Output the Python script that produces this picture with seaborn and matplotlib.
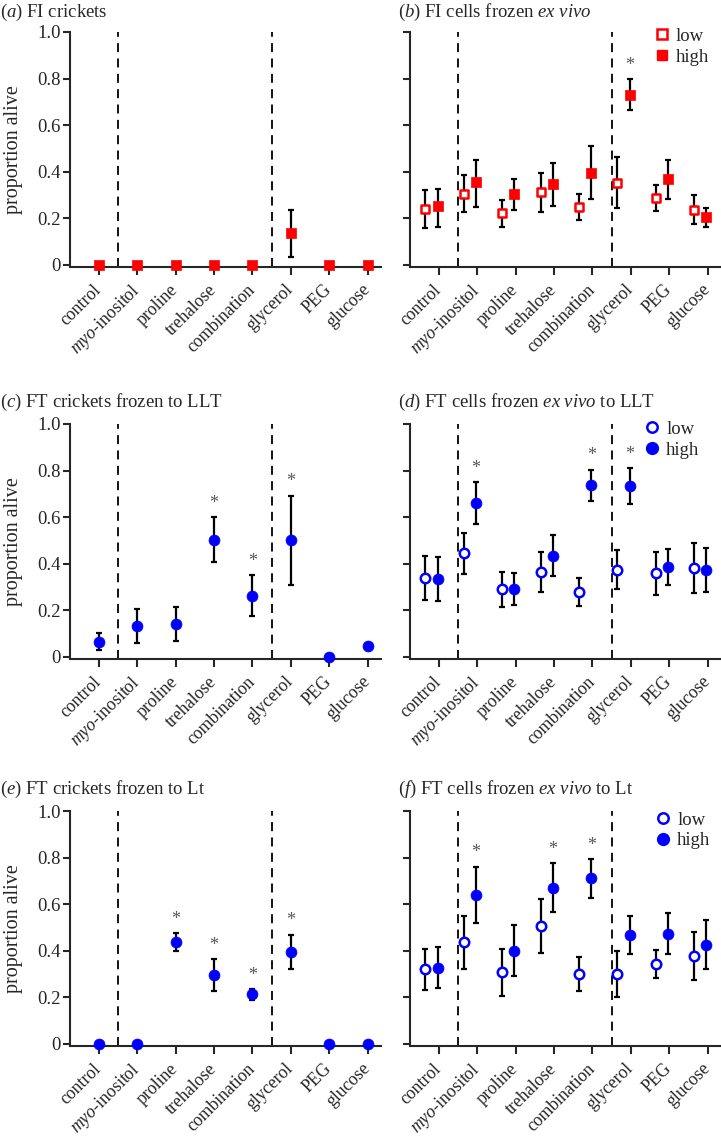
import numpy as np
import pandas as pd
import matplotlib
matplotlib.use("Agg")
import matplotlib.pyplot as plt
from matplotlib.lines import Line2D
import seaborn as sns

sns.set_style("ticks")
plt.rcParams["font.family"] = ["Liberation Serif", "DejaVu Serif"]
plt.rcParams["mathtext.fontset"] = "custom"
plt.rcParams["mathtext.rm"] = "Liberation Serif"
plt.rcParams["mathtext.it"] = "Liberation Serif:italic"

treatments = ["control", r"$\it{myo}$-inositol", "proline", "trehalose",
              "combination", "glycerol", "PEG", "glucose"]

# (a) FI crickets
a_high = [0, 0, 0, 0, 0, 0.135, 0, 0]
a_high_lo = [0, 0, 0, 0, 0, 0.032, 0, 0]
a_high_hi = [0, 0, 0, 0, 0, 0.234, 0, 0]
a_sig = []

# (b) FI cells frozen ex vivo
b_low = [0.241, 0.305, 0.221, 0.311, 0.246, 0.352, 0.287, 0.236]
b_low_lo = [0.156, 0.228, 0.160, 0.228, 0.191, 0.242, 0.231, 0.173]
b_low_hi = [0.322, 0.384, 0.279, 0.393, 0.305, 0.463, 0.342, 0.301]
b_high = [0.252, 0.357, 0.304, 0.347, 0.395, 0.731, 0.368, 0.205]
b_high_lo = [0.162, 0.249, 0.236, 0.254, 0.281, 0.665, 0.284, 0.160]
b_high_hi = [0.327, 0.448, 0.367, 0.437, 0.511, 0.797, 0.451, 0.242]
b_sig = [5]

# (c) FT crickets frozen to LLT
c_high = [0.064, 0.132, 0.139, 0.501, 0.262, 0.501, 0.0, 0.045]
c_high_lo = [0.029, 0.060, 0.066, 0.405, 0.175, 0.309, 0.0, 0.040]
c_high_hi = [0.100, 0.205, 0.212, 0.599, 0.351, 0.692, 0.0, 0.050]
c_sig = [3, 4, 5]

# (d) FT cells frozen ex vivo to LLT
d_low = [0.337, 0.444, 0.290, 0.364, 0.279, 0.374, 0.359, 0.381]
d_low_lo = [0.243, 0.356, 0.214, 0.280, 0.219, 0.289, 0.267, 0.274]
d_low_hi = [0.434, 0.531, 0.364, 0.450, 0.339, 0.459, 0.450, 0.489]
d_high = [0.333, 0.660, 0.290, 0.434, 0.736, 0.733, 0.384, 0.371]
d_high_lo = [0.239, 0.569, 0.221, 0.346, 0.667, 0.657, 0.306, 0.276]
d_high_hi = [0.427, 0.750, 0.359, 0.523, 0.804, 0.810, 0.461, 0.467]
d_sig = [1, 4, 5]

# (e) FT crickets frozen to Lt
e_high = [0, 0, 0.435, 0.296, 0.212, 0.393, 0, 0]
e_high_lo = [0, 0, 0.398, 0.226, 0.188, 0.319, 0, 0]
e_high_hi = [0, 0, 0.474, 0.364, 0.235, 0.468, 0, 0]
e_sig = [2, 3, 4, 5]

# (f) FT cells frozen ex vivo to Lt
f_low = [0.319, 0.436, 0.309, 0.504, 0.300, 0.299, 0.344, 0.377]
f_low_lo = [0.230, 0.323, 0.207, 0.389, 0.226, 0.199, 0.284, 0.273]
f_low_hi = [0.407, 0.550, 0.407, 0.620, 0.373, 0.397, 0.404, 0.480]
f_high = [0.326, 0.640, 0.399, 0.671, 0.710, 0.467, 0.473, 0.426]
f_high_lo = [0.239, 0.519, 0.289, 0.564, 0.624, 0.386, 0.384, 0.321]
f_high_hi = [0.414, 0.761, 0.510, 0.777, 0.794, 0.550, 0.560, 0.530]
f_sig = [1, 3, 4]

RED = "#ff0000"
BLUE = "#0000ff"
W, H = 721, 1139
FS_XT = 12.8
FS_YT = 13.5
FS_TITLE = 13.5


def draw_series(ax, mean, lo, hi, offset, marker, color, filled):
    x = np.arange(len(mean)) + offset
    df = pd.DataFrame({"x": x, "y": mean})
    m = np.array(mean)
    yerr = [m - np.array(lo), np.array(hi) - m]
    ax.errorbar(x, m, yerr=yerr, fmt="none", ecolor="black", elinewidth=1.6,
                capsize=2.5, capthick=1.6, zorder=2, clip_on=False)
    size = 48 if marker == "s" else 62
    if filled:
        sns.scatterplot(data=df, x="x", y="y", marker=marker, color=color,
                        edgecolor=color, linewidth=0.5, s=size, ax=ax,
                        zorder=3, clip_on=False, legend=False)
    else:
        sns.scatterplot(data=df, x="x", y="y", marker=marker, color="white",
                        edgecolor=color, linewidth=1.8, s=size * 0.75, ax=ax,
                        zorder=3, clip_on=False, legend=False)


def setup_axes(rect_px):
    x0, top, w, h = rect_px
    ax = fig.add_axes([x0 / W, 1 - (top + h) / H, w / W, h / H])
    ax.set_xlim(-0.75, 7.35)
    ax.set_ylim(-0.01, 1.0)
    for xv in (0.5, 4.5):
        ax.axvline(xv, color="black", lw=1.3, ls=(0, (5, 3.5)), zorder=1)
    return ax


def finish(ax, left_col):
    ax.set_yticks([0, 0.2, 0.4, 0.6, 0.8, 1.0])
    ax.set_xticks(range(len(treatments)))
    ax.set_xticklabels(treatments, rotation=45, ha="right", va="center",
                       rotation_mode="anchor", fontsize=FS_XT)
    ax.tick_params(axis="x", length=6, width=1.5, pad=8.5)
    ax.tick_params(axis="y", length=5, width=1.5, pad=1.5)
    ax.set_xlabel("")
    if left_col:
        ax.set_yticklabels(["0", "0.2", "0.4", "0.6", "0.8", "1.0"], fontsize=FS_YT)
        ax.set_ylabel("proportion alive", fontsize=14.5)
        ax.yaxis.set_label_coords(-0.15, 0.5)
    else:
        ax.set_yticklabels([])
        ax.set_ylabel("")
    sns.despine(ax=ax)
    for sp in ("left", "bottom"):
        ax.spines[sp].set_linewidth(1.5)


def stars(ax, hi, sig, offset):
    for i in sig:
        ax.text(i + offset, hi[i] + 0.04, "*", ha="center", va="baseline",
                fontsize=13, color="#555555")


fig = plt.figure(figsize=(W / 100, H / 100), dpi=100)

rows = [32, 424, 811]
cols = [70, 410]
aw, ah = 311, 235
lo_off, hi_off = -0.35, -0.03
leg_kw = dict(loc="upper right", frameon=False, fontsize=FS_TITLE, handlelength=0.8,
              handletextpad=0.35, labelspacing=0.2, borderaxespad=0)

# (a)
ax = setup_axes((cols[0], rows[0], aw, ah))
draw_series(ax, a_high, a_high_lo, a_high_hi, 0, "s", RED, True)
stars(ax, a_high_hi, a_sig, 0)
finish(ax, True)

# (b)
ax = setup_axes((cols[1], rows[0], aw, ah))
draw_series(ax, b_low, b_low_lo, b_low_hi, lo_off, "s", RED, False)
draw_series(ax, b_high, b_high_lo, b_high_hi, hi_off, "s", RED, True)
stars(ax, b_high_hi, b_sig, hi_off)
hb = [Line2D([], [], ls="none", marker="s", mfc="white", mec=RED, mew=1.8, ms=7.5),
      Line2D([], [], ls="none", marker="s", mfc=RED, mec=RED, ms=7.5)]
ax.legend(hb, ["low", "high"], bbox_to_anchor=(0.985, 1.05), **leg_kw)
finish(ax, False)

# (c)
ax = setup_axes((cols[0], rows[1], aw, ah))
draw_series(ax, c_high, c_high_lo, c_high_hi, 0, "o", BLUE, True)
stars(ax, c_high_hi, c_sig, 0)
finish(ax, True)

# (d)
ax = setup_axes((cols[1], rows[1], aw, ah))
draw_series(ax, d_low, d_low_lo, d_low_hi, lo_off, "o", BLUE, False)
draw_series(ax, d_high, d_high_lo, d_high_hi, hi_off, "o", BLUE, True)
stars(ax, d_high_hi, d_sig, hi_off)
hc = [Line2D([], [], ls="none", marker="o", mfc="white", mec=BLUE, mew=1.8, ms=7.5),
      Line2D([], [], ls="none", marker="o", mfc=BLUE, mec=BLUE, ms=8.5)]
ax.legend(hc, ["low", "high"], bbox_to_anchor=(0.955, 1.045), **leg_kw)
finish(ax, False)

# (e)
ax = setup_axes((cols[0], rows[2], aw, ah))
draw_series(ax, e_high, e_high_lo, e_high_hi, 0, "o", BLUE, True)
stars(ax, e_high_hi, e_sig, 0)
finish(ax, True)

# (f)
ax = setup_axes((cols[1], rows[2], aw, ah))
draw_series(ax, f_low, f_low_lo, f_low_hi, lo_off, "o", BLUE, False)
draw_series(ax, f_high, f_high_lo, f_high_hi, hi_off, "o", BLUE, True)
stars(ax, f_high_hi, f_sig, hi_off)
ax.legend(hc, ["low", "high"], bbox_to_anchor=(0.99, 1.03), **leg_kw)
finish(ax, False)

titles = [
    (0, 12, r"($\it{a}$) FI crickets"),
    (398, 12, r"($\it{b}$) FI cells frozen $\it{ex\ vivo}$"),
    (0, 402, r"($\it{c}$) FT crickets frozen to LLT"),
    (398, 402, r"($\it{d}$) FT cells frozen $\it{ex\ vivo}$ to LLT"),
    (0, 789, r"($\it{e}$) FT crickets frozen to Lt"),
    (398, 789, r"($\it{f}$) FT cells frozen $\it{ex\ vivo}$ to Lt"),
]
for tx, ty, t in titles:
    fig.text(tx / W, 1 - ty / H, t, ha="left", va="center", fontsize=FS_TITLE)

fig.savefig("out.png", dpi=100)
